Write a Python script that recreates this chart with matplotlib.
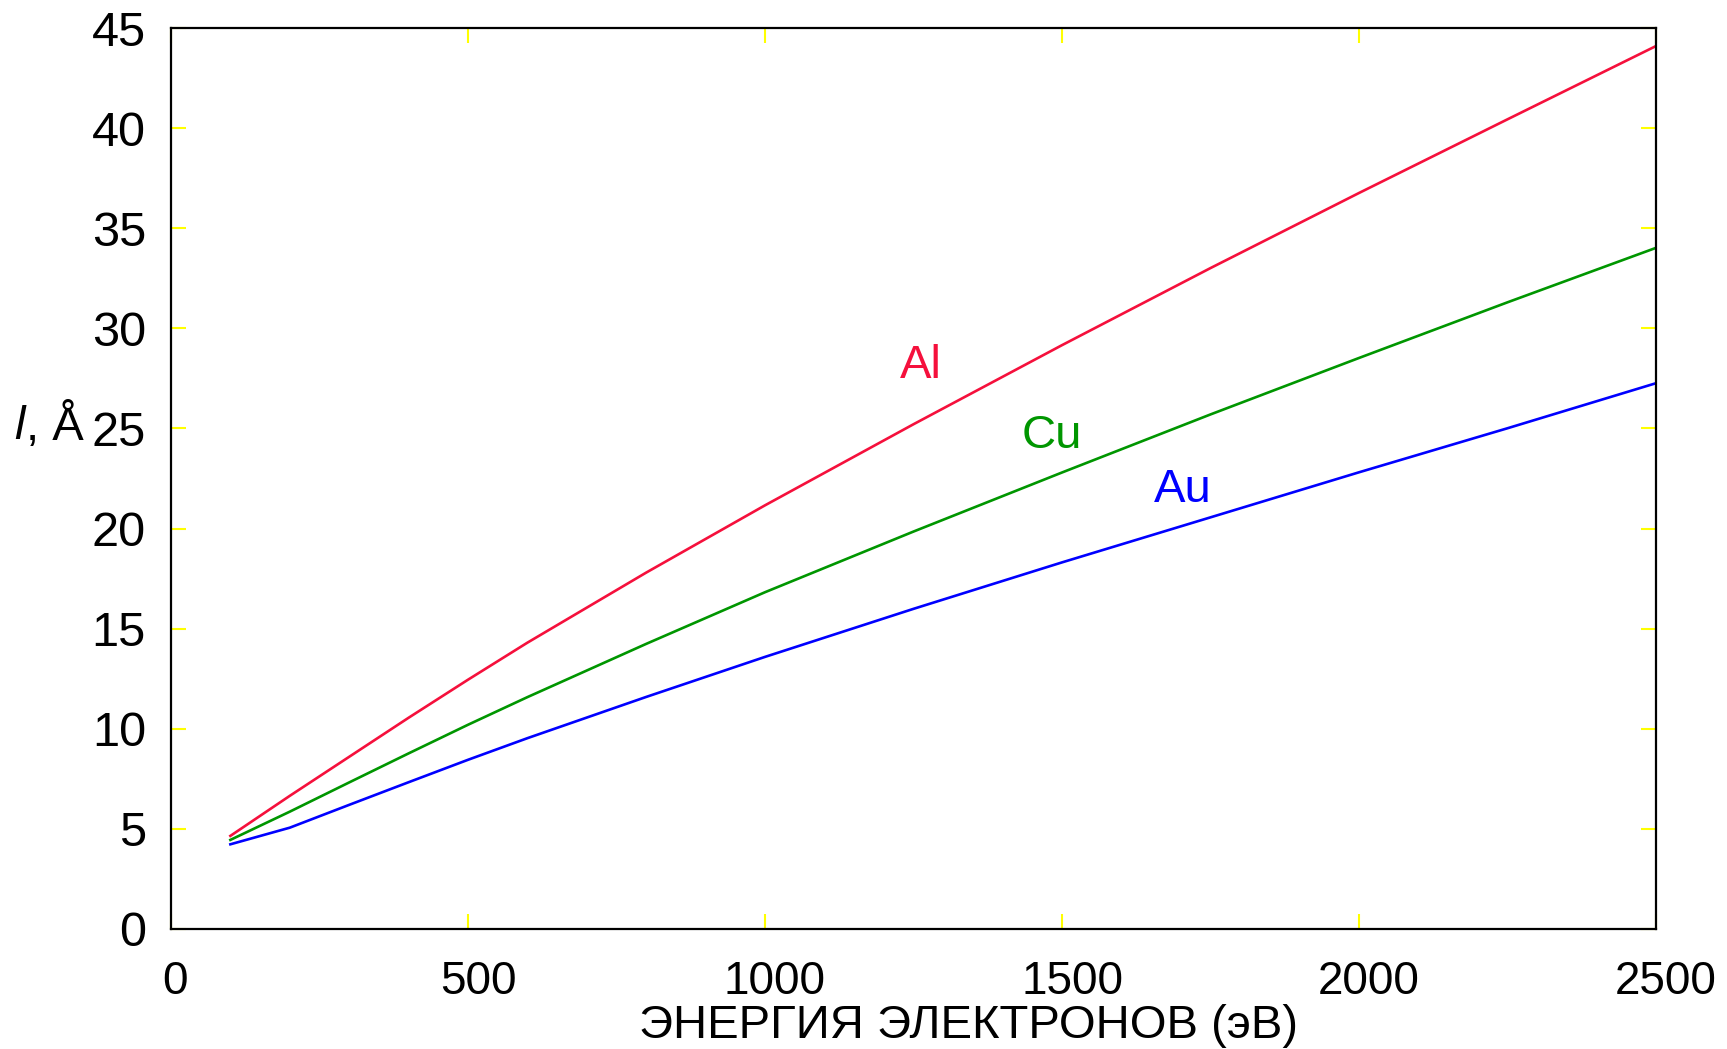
import matplotlib
matplotlib.use("Agg")
import matplotlib.pyplot as plt
from matplotlib.transforms import ScaledTranslation

energy = [100, 200, 300, 400, 500, 600, 800, 1000, 1250, 1500, 1750, 2000, 2250, 2500]
al = [4.65, 6.65, 8.6, 10.55, 12.45, 14.3, 17.8, 21.16, 25.21, 29.16, 33.01, 36.76, 40.44, 44.1]
cu = [4.45, 5.86, 7.32, 8.77, 10.2, 11.58, 14.24, 16.82, 19.85, 22.8, 25.7, 28.52, 31.3, 34.02]
au = [4.23, 5.06, 6.2, 7.33, 8.45, 9.53, 11.59, 13.59, 15.99, 18.31, 20.56, 22.81, 25.01, 27.26]

series = [("Al", al, "#f5103c", 1263, 28.1),
          ("Cu", cu, "#009600", 1483, 24.6),
          ("Au", au, "#0000ff", 1704, 21.95)]

xticks = [0, 500, 1000, 1500, 2000, 2500]
yticks = [0, 5, 10, 15, 20, 25, 30, 35, 40, 45]

plt.rcParams['font.family'] = ['Liberation Sans', 'DejaVu Sans']

fig = plt.figure(figsize=(17.27, 10.49), dpi=100)
ax = fig.add_axes([0.099, 0.1144, 0.8599, 0.8589])

for name, vals, col, tx, ty in series:
    ax.plot(energy, vals, color=col, lw=1.9)
    ax.text(tx, ty, name, color=col, fontsize=34, ha='center', va='center')

ax.set_xlim(0, 2500)
ax.set_ylim(0, 45)
ax.set_xticks(xticks)
ax.set_yticks(yticks)
ax.tick_params(direction='in', length=11, width=1.5, color='#ffff00',
               labelcolor='black', top=True, right=True)
ax.tick_params(axis='x', pad=22, labelsize=33)
ax.tick_params(axis='y', pad=18, labelsize=35)
for s in ax.spines.values():
    s.set_linewidth(1.6)
    s.set_color('black')

for i, lab in enumerate(ax.get_xticklabels()):
    dx = 4 if i == 0 else 10
    lab.set_transform(lab.get_transform() + ScaledTranslation(dx / 100, 0, fig.dpi_scale_trans))

fig.text(969 / 1727, 1 - 1026 / 1049, "ЭНЕРГИЯ ЭЛЕКТРОНОВ (эВ)", fontsize=34,
         ha='center', va='center')

fig.text(14 / 1727, 1 - 427 / 1049, "l", fontsize=34, style='italic',
         ha='left', va='center')
fig.text(26 / 1727, 1 - 427 / 1049, ", Å", fontsize=34, ha='left', va='center')

fig.savefig("out.png", dpi=100)
